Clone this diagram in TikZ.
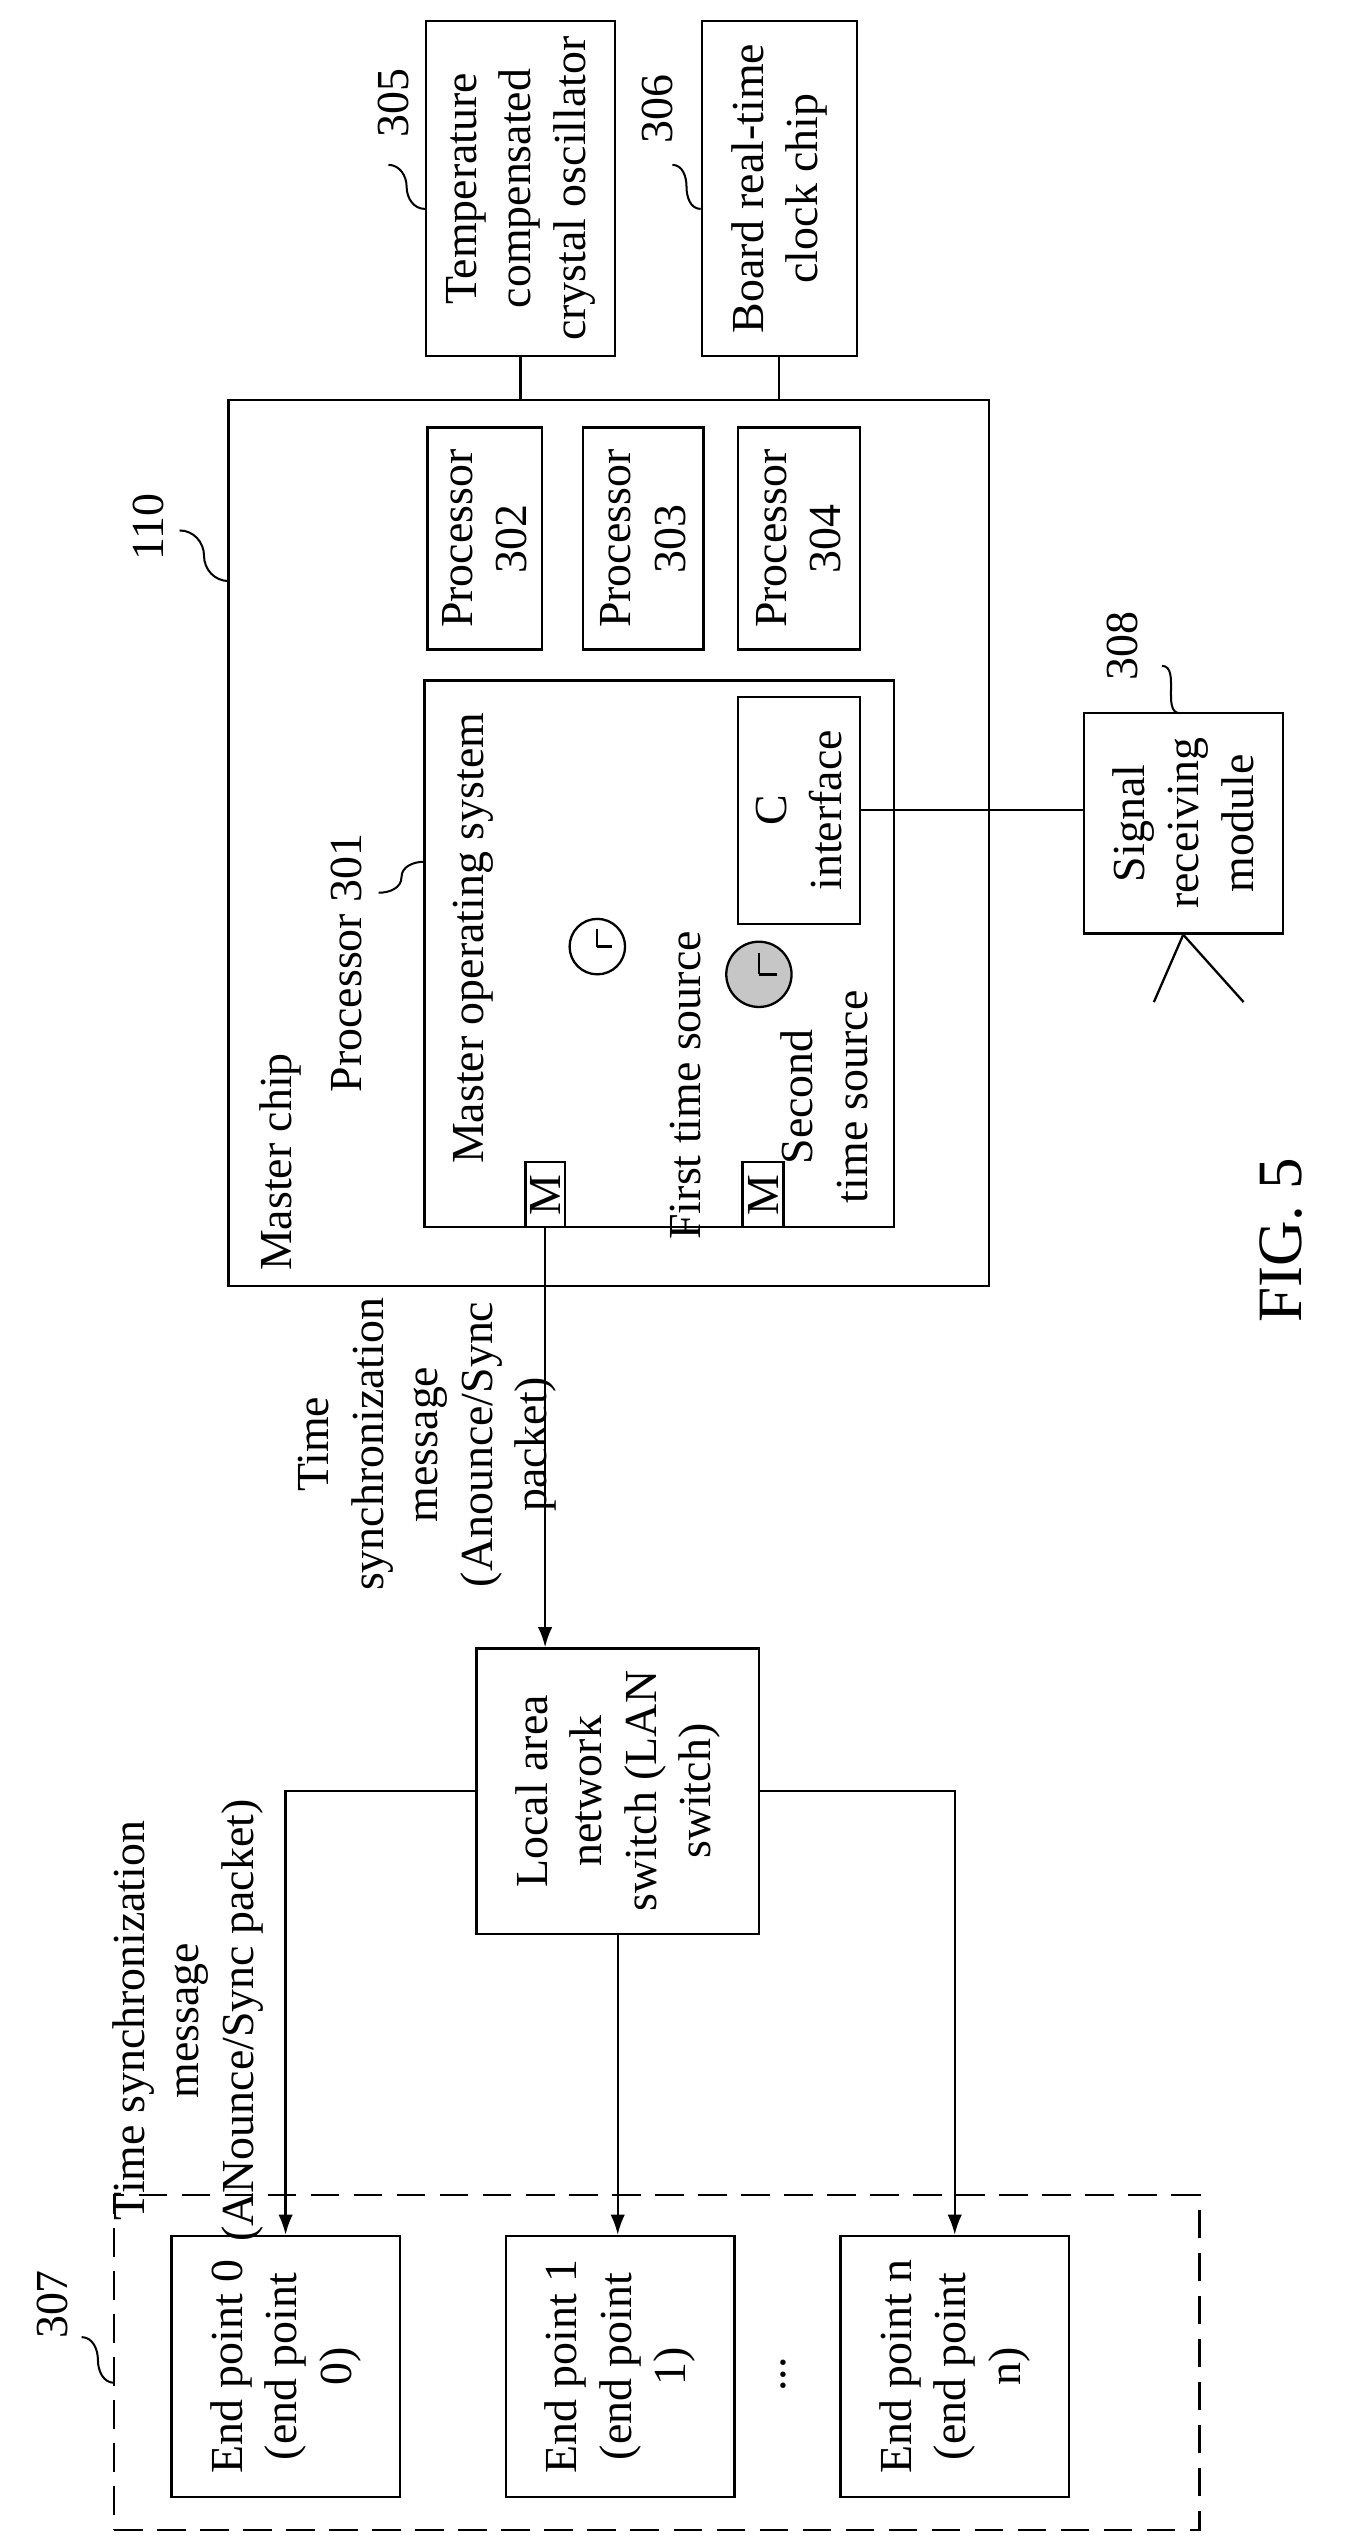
\documentclass[tikz,border=0pt]{standalone}
\usepackage{fontspec}
\setmainfont{Liberation Serif}
\usetikzlibrary{calc,arrows.meta}
\begin{document}
\begin{tikzpicture}[x=0.02cm,y=-0.02cm,line width=0.8pt,
  box/.style={draw,rotate=90,align=center,inner sep=1pt},
  lbl/.style={rotate=90,align=center,inner sep=1pt},
  arr/.style={-{Latex[length=7pt,width=5pt]}},
  every node/.style={font=\fontsize{16}{19}\selectfont}]
\useasboundingbox (0,0) rectangle (835,1560);
% top boxes
\node[box,minimum width=4.1cm,minimum height=2.32cm] (b305) at (319,115.5) {Temperature\\compensated\\crystal oscillator};
\node[box,minimum width=4.1cm,minimum height=1.9cm] (b306) at (477.5,115.5) {Board real-time\\clock chip};
% master chip
\node[box,minimum width=10.86cm,minimum height=9.32cm] (master) at (373,516.5) {};
\node[box,minimum width=2.72cm,minimum height=1.4cm] (p302) at (297,330) {Processor\\302};
\node[box,minimum width=2.72cm,minimum height=1.48cm] (p303) at (394,330) {Processor\\303};
\node[box,minimum width=2.72cm,minimum height=1.5cm] (p304) at (489.5,330) {Processor\\304};
\node[box,minimum width=6.7cm,minimum height=5.76cm] (p301) at (404,584.5) {};
\node[box,minimum width=2.78cm,minimum height=1.5cm] (cif) at (489.5,496.5) {C\\interface};
\node[box,minimum width=0.8cm,minimum height=0.48cm,inner sep=0pt] (m1) at (334,732) {M};
\node[box,minimum width=0.8cm,minimum height=0.5cm,inner sep=0pt] (m2) at (467.5,732) {M};
\node[box,minimum width=2.7cm,minimum height=2.44cm] (sig) at (725,504.5) {Signal\\receiving\\module};
% texts in master chip
\node[lbl] (tmc) at (172,712) {Master chip};
\node[lbl] (tp301) at (212,590) {Processor 301};
\node[lbl] (tmos) at (290,575) {Master operating system};
\node[lbl] (tfts) at (420,665) {First time source};
\node[lbl] (tsts) at (505,672) {Second\\time source};
% clocks
\node[draw,circle,fill=white,minimum size=0.68cm,inner sep=0pt] (clk1) at (366,580) {};
\draw (clk1.center) -- ++(0,-11) (clk1.center) -- ++(9,0);
\node[draw,circle,fill=gray!45,minimum size=0.8cm,inner sep=0pt] (clk2) at (465,597) {};
\draw (clk2.center) -- ++(0,-13) (clk2.center) -- ++(11,0);
% LAN and endpoints
\node[box,minimum width=3.5cm,minimum height=3.46cm] (lan) at (378.5,1097.5) {Local area\\network\\switch (LAN\\switch)};
\node[draw,minimum width=13.3cm,minimum height=4.1cm,inner sep=0pt,dash pattern=on 10pt off 5pt] (dash) at (402.5,1447.5) {};
\node[box,minimum width=3.2cm,minimum height=2.8cm] (e0) at (175,1450) {End point 0\\(end point\\0)};
\node[box,minimum width=3.2cm,minimum height=2.8cm] (e1) at (380,1450) {End point 1\\(end point\\1)};
\node[box,minimum width=3.2cm,minimum height=2.8cm] (en) at (585,1450) {End point n\\(end point\\n)};
\node[lbl] (dots) at (480,1455) {...};
% labels
\node[lbl] (tsm1) at (262,885) {Time\\synchronization\\message\\(Anounce/Sync\\packet)};
\node[lbl] (tsm2) at (115,1238) {Time synchronization\\message\\(ANounce/Sync packet)};
\node[lbl,font=\fontsize{22}{26}\selectfont] (fig) at (785,760) {FIG. 5};
\node[lbl] (n305) at (241,63) {305};
\node[lbl] (n306) at (403,67) {306};
\node[lbl] (n110) at (91,323) {110};
\node[lbl] (n308) at (688,396) {308};
\node[lbl] (n307) at (32,1412) {307};
% squiggles
\tikzset{sq/.style={line width=0.7pt}}
\coordinate (s305a) at (238,101); \coordinate (s305b) at (b305.north |- 0,128);
\coordinate (s306a) at (412,101); \coordinate (s306b) at (b306.north |- 0,128);
\coordinate (s110a) at (110,325); \coordinate (s110b) at (140,356);
\coordinate (s308a) at (712,408); \coordinate (s308b) at (723,437);
\coordinate (s307a) at (50,1432); \coordinate (s307b) at (70,1460);
\coordinate (s301a) at (232,547); \coordinate (s301b) at (260,528);
\foreach \a/\b in {s305a/s305b,s306a/s306b,s110a/s110b,s307a/s307b}{
  \draw[sq] (\a) to[out=0,in=90] ($(\a)!0.5!(\b)$) to[out=270,in=180] (\b);}
\draw[sq] (s308a) to[out=0,in=90] ($(s308a)!0.5!(s308b)$) to[out=270,in=180] (s308b);
\draw[sq] (s301a) to[out=0,in=270] ($(s301a)!0.5!(s301b)$) to[out=90,in=180] (s301b);
% connectors
\draw (b305.west) -- (b305.west |- master.east);
\draw (b306.west) -- (b306.west |- master.east);
\draw (cif.south) -- (cif.south -| sig.north);
\coordinate (ant) at (sig.west);
\coordinate (antl) at (707,614); \coordinate (antr) at (762,614);
\draw (antl) -- (ant) -- (antr);
\draw[arr] (m1.west) -- (m1.west |- lan.east);
\draw[arr] (lan.north) -| (e0.east);
\draw[arr] (lan.west) -- (lan.west |- e1.east);
\draw[arr] (lan.south) -| (en.east);
\end{tikzpicture}
\end{document}
